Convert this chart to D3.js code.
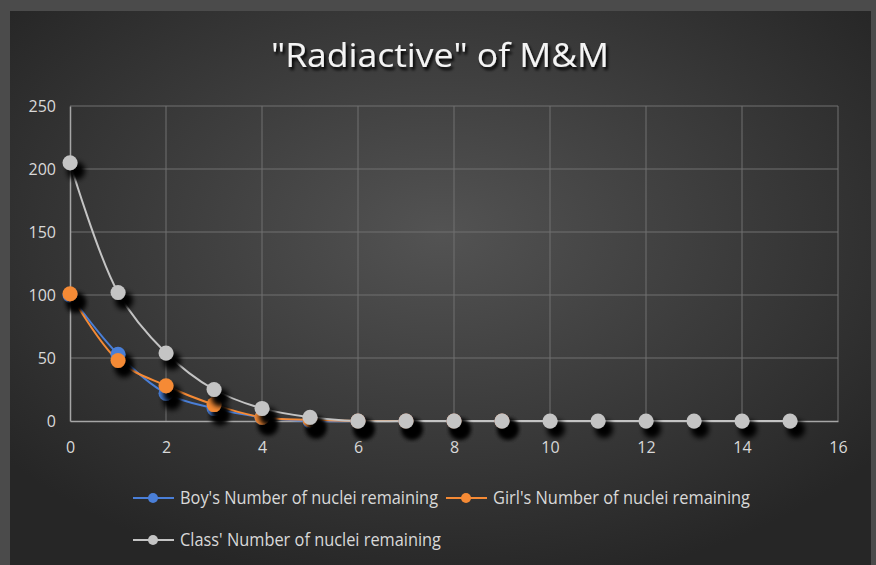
<!DOCTYPE html>
<html><head><meta charset="utf-8">
<script src="https://cdn.jsdelivr.net/npm/d3@7"></script>
<style>html,body{margin:0;padding:0;background:#4b4b4b;}svg{display:block;}</style>
</head><body>
<script>
const xValues = [0,1,2,3,4,5,6,7,8,9,10,11,12,13,14,15];
const boyValues = [100,53,22,10,3,0,0,0,0,0];
const girlValues = [101,48,28,13,3,1,0,0,0,0];
const classValues = [205,102,54,25,10,3,0,0,0,0,0,0,0,0,0,0];
const seriesNames = ["Boy's Number of nuclei remaining","Girl's Number of nuclei remaining","Class' Number of nuclei remaining"];
const seriesColors = ["#4a7fd8","#f58a35","#c4c4c4"];
const xTicks = [0,2,4,6,8,10,12,14,16];
const yTicks = [0,50,100,150,200,250];
const titleText = "\"Radiactive\" of M&M";

const W=876,H=565;
const svg=d3.select("body").append("svg").attr("width",W).attr("height",H);
const defs=svg.append("defs");
const rg=defs.append("radialGradient").attr("id","bg").attr("cx","50%").attr("cy","40%").attr("r","65%");
rg.append("stop").attr("offset","0%").attr("stop-color","#535353");
rg.append("stop").attr("offset","100%").attr("stop-color","#262626");
const sh=defs.append("filter").attr("id","sh").attr("x","-50%").attr("y","-50%").attr("width","250%").attr("height","250%");
sh.append("feGaussianBlur").attr("in","SourceAlpha").attr("stdDeviation",3).attr("result","b");
sh.append("feOffset").attr("in","b").attr("dx",6).attr("dy",8).attr("result","o");
const m=sh.append("feMerge"); m.append("feMergeNode").attr("in","o"); m.append("feMergeNode").attr("in","o"); m.append("feMergeNode").attr("in","SourceGraphic");
const tsh=defs.append("filter").attr("id","tsh").attr("x","-10%").attr("y","-30%").attr("width","130%").attr("height","170%");
tsh.append("feGaussianBlur").attr("in","SourceAlpha").attr("stdDeviation",1.5).attr("result","b");
tsh.append("feOffset").attr("in","b").attr("dx",2).attr("dy",3).attr("result","o");
const m2=tsh.append("feMerge"); m2.append("feMergeNode").attr("in","o"); m2.append("feMergeNode").attr("in","SourceGraphic");

svg.append("rect").attr("width",W).attr("height",H).attr("fill","#4b4b4b");
svg.append("rect").attr("x",10).attr("y",11).attr("width",861).attr("height",H-11).attr("fill","url(#bg)");

svg.append("text").attr("x",440).attr("y",67).attr("text-anchor","middle")
  .attr("font-family","Open Sans").attr("font-size",32).attr("fill","#f4f4f4")
  .attr("textLength",338).attr("lengthAdjust","spacingAndGlyphs")
  .attr("filter","url(#tsh)").text(titleText);

const x=d3.scaleLinear().domain([0,16]).range([70,838]);
const y=d3.scaleLinear().domain([0,250]).range([421,106]);

const grid=svg.append("g");
grid.selectAll("line.h").data(yTicks.filter(d=>d>0)).join("line")
  .attr("x1",x(0)).attr("x2",x(16)).attr("y1",d=>y(d)).attr("y2",d=>y(d))
  .attr("stroke","#707070").attr("stroke-width",1);
grid.selectAll("line.v").data(xTicks.filter(d=>d>0)).join("line")
  .attr("x1",d=>x(d)).attr("x2",d=>x(d)).attr("y1",y(250)).attr("y2",y(0))
  .attr("stroke","#707070").attr("stroke-width",1);

const xAxis=svg.append("g").attr("transform",`translate(0,${y(0)})`)
  .call(d3.axisBottom(x).tickValues(xTicks).tickSize(0).tickPadding(21));
xAxis.select(".domain").attr("stroke","#a6a6a6").attr("stroke-width",1.5);
const yAxis=svg.append("g").attr("transform",`translate(${x(0)},0)`)
  .call(d3.axisLeft(y).tickValues(yTicks).tickSize(0).tickPadding(14));
yAxis.select(".domain").attr("stroke","#a6a6a6").attr("stroke-width",1.5);
svg.selectAll(".tick text").attr("font-family","Open Sans").attr("font-size",16).attr("fill","#d9d9d9");
yAxis.selectAll(".tick text").attr("dy","0.35em");

const series=[boyValues,girlValues,classValues];
const line=d3.line().x((d,i)=>x(xValues[i])).y(d=>y(d)).curve(d3.curveCatmullRom.alpha(0.5));
[0,1,2].forEach(k=>{
  svg.append("path").datum(series[k]).attr("d",line).attr("fill","none")
    .attr("stroke",seriesColors[k]).attr("stroke-width",2);
});
[0,1,2].forEach(k=>{
  svg.append("g").attr("filter","url(#sh)").selectAll("circle").data(series[k]).join("circle")
    .attr("cx",(d,i)=>x(xValues[i])).attr("cy",d=>y(d)).attr("r",7.5).attr("fill",seriesColors[k]);
});

const legendPos=[[133,498],[446,498],[133,540]];
const legendWidths=[258,257,261];
seriesNames.forEach((n,k)=>{
  const [lx,ly]=legendPos[k];
  const g=svg.append("g");
  g.append("line").attr("x1",lx).attr("x2",lx+41).attr("y1",ly).attr("y2",ly).attr("stroke",seriesColors[k]).attr("stroke-width",2);
  g.append("circle").attr("cx",lx+20).attr("cy",ly).attr("r",5).attr("fill",seriesColors[k]);
  g.append("text").attr("x",lx+47).attr("y",ly).attr("dy","0.35em").attr("font-family","Open Sans").attr("font-size",17.5)
    .attr("textLength",legendWidths[k]).attr("lengthAdjust","spacingAndGlyphs")
    .attr("fill","#d9d9d9").text(n);
});
</script>
</body></html>
